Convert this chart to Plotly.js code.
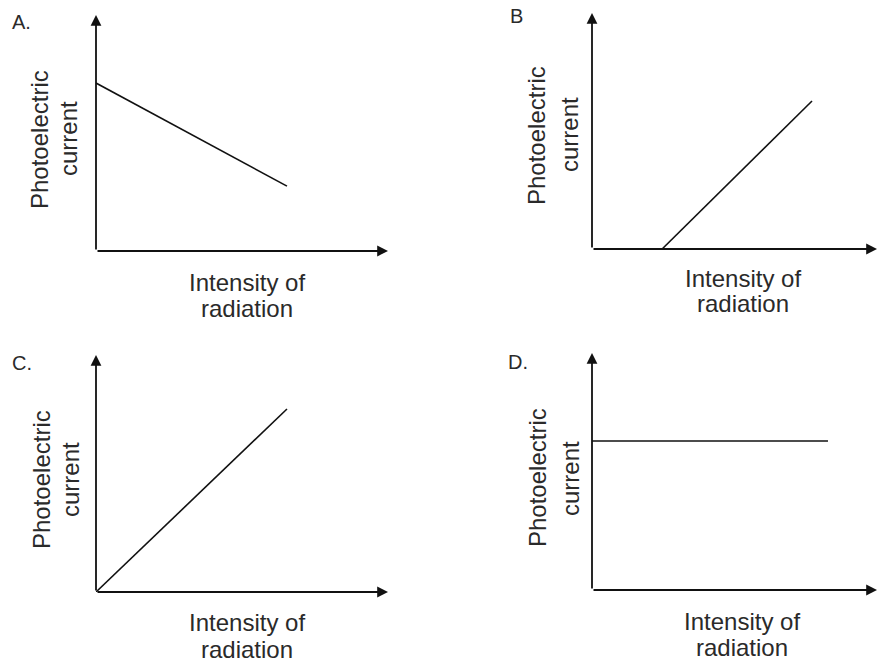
<!DOCTYPE html>
<html>
<head>
<meta charset="utf-8">
<script src="https://cdn.plot.ly/plotly-3.0.1.min.js"></script>
<style>html,body{margin:0;padding:0;background:#fff;}#chart{width:878px;height:663px;}</style>
</head>
<body>
<div id="chart"></div>
<script>
// ---- data ----
const panelLabels = ['A.', 'B', 'C.', 'D.'];
const xAxisLabel = ['Intensity of', 'radiation'];
const yAxisLabel = ['Photoelectric', 'current'];
const aX = [0, 6.54], aY = [7.12, 2.75];
const bX = [2.46, 7.72], bY = [0, 6.27];
const cX = [0, 6.54], cY = [0, 7.72];
const dX = [0, 8.28], dY = [6.29, 6.29];
const axisMax = 10;

// ---- layout helpers ----
const W = 878, H = 663;
const px = v => v / W;
const py = v => 1 - v / H;
const FONT = 'Liberation Sans, Arial, sans-serif';
const TXT = '#2a2a2a';

const panels = [
  {xs: aX, ys: aY, dx: [96, 388], dy: [251, 15], label: [21, 22],
   yl: [[39, 140], [68, 139]], xl: [[247, 282], [247, 308]]},
  {xs: bX, ys: bY, dx: [592, 877], dy: [249, 13], label: [516, 16],
   yl: [[537, 136], [570, 135]], xl: [[743, 278], [743, 304]]},
  {xs: cX, ys: cY, dx: [96, 388], dy: [592, 355], label: [22, 363],
   yl: [[41, 480], [70, 480]], xl: [[247, 622], [247, 649]]},
  {xs: dX, ys: dY, dx: [592, 877], dy: [590, 353], label: [518, 362],
   yl: [[537, 478], [570, 479]], xl: [[742, 621], [742, 647]]}
];

const traces = [];
const layout = {
  width: W, height: H,
  margin: {l: 0, r: 0, t: 0, b: 0},
  paper_bgcolor: '#fff', plot_bgcolor: '#fff',
  showlegend: false,
  annotations: []
};

panels.forEach((p, i) => {
  const n = i === 0 ? '' : String(i + 1);
  const xa = 'x' + n, ya = 'y' + n;
  const axStyle = {showgrid: false, zeroline: false, showticklabels: false,
                   showline: false, ticks: '', range: [0, axisMax], fixedrange: true};
  layout['xaxis' + n] = Object.assign({}, axStyle,
    {domain: [px(p.dx[0]), px(p.dx[1])], anchor: ya});
  layout['yaxis' + n] = Object.assign({}, axStyle,
    {domain: [py(p.dy[0]), py(p.dy[1])], anchor: xa});

  traces.push({x: p.xs, y: p.ys, xaxis: xa, yaxis: ya, type: 'scatter',
    mode: 'lines', line: {color: '#111', width: 1.6}, hoverinfo: 'skip', cliponaxis: false});

  // axes with arrowheads
  const arrowBase = {xref: xa, yref: ya, axref: xa, ayref: ya, text: '', showarrow: true,
    arrowhead: 2, arrowsize: 1.2, arrowwidth: 1.8, arrowcolor: '#111', ax: 0, ay: 0};
  layout.annotations.push(Object.assign({}, arrowBase, {x: 0, y: axisMax}));
  layout.annotations.push(Object.assign({}, arrowBase, {x: axisMax, y: 0}));

  // panel label
  layout.annotations.push({xref: 'paper', yref: 'paper', x: px(p.label[0]), y: py(p.label[1]),
    xanchor: 'center', yanchor: 'middle', text: panelLabels[i], showarrow: false,
    font: {family: FONT, size: 20, color: TXT}});

  // y-axis title (two rotated lines)
  yAxisLabel.forEach((t, k) => {
    layout.annotations.push({xref: 'paper', yref: 'paper', x: px(p.yl[k][0]), y: py(p.yl[k][1]),
      xanchor: 'center', yanchor: 'middle', text: t, textangle: -90, showarrow: false,
      font: {family: FONT, size: 24, color: TXT}});
  });
  // x-axis title (two lines)
  xAxisLabel.forEach((t, k) => {
    layout.annotations.push({xref: 'paper', yref: 'paper', x: px(p.xl[k][0]), y: py(p.xl[k][1]),
      xanchor: 'center', yanchor: 'middle', text: t, showarrow: false,
      font: {family: FONT, size: 24, color: TXT}});
  });
});

Plotly.newPlot('chart', traces, layout, {displayModeBar: false, staticPlot: true});
</script>
</body>
</html>
